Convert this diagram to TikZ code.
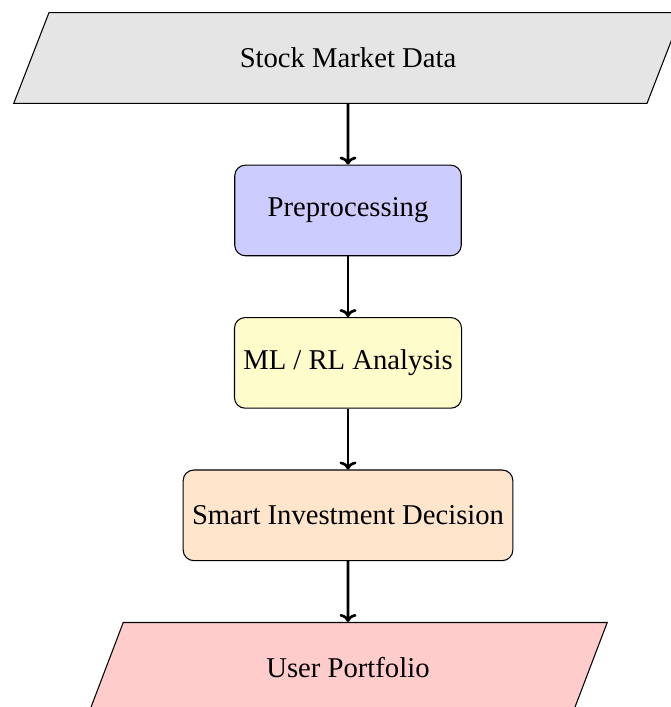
\documentclass[tikz,border=0pt]{standalone}
\usepackage{fontspec}
\setmainfont{Liberation Serif}
\usetikzlibrary{shapes.geometric, positioning, arrows.meta}

\begin{document}
\begin{tikzpicture}[node distance=0.805cm, font=\fontsize{10.8}{13}\selectfont,
    io/.style={trapezium, trapezium left angle=70, trapezium right angle=110,
        trapezium stretches=true, draw, minimum height=1.2cm, text centered},
    process/.style={rectangle, rounded corners, draw, minimum width=3cm,
        minimum height=1.2cm, text centered},
    arrow/.style={line width=1pt, -{To[width=6.4pt, length=3pt]}}]

    \useasboundingbox (0,0) rectangle (8.887,-9.364);

    % Stages of the pipeline
    \node[io, fill=gray!20, minimum width=8.887cm] (data) at (4.609,-0.768) {Stock Market Data};
    \node[process, fill=blue!20, below=of data] (prep) {Preprocessing};
    \node[process, fill=yellow!20, below=of prep] (ml) {ML / RL Analysis};
    \node[process, fill=orange!20, below=of ml] (decision) {Smart Investment Decision};
    \node[io, fill=red!20, minimum width=6.88cm, below=of decision] (portfolio) {User Portfolio};

    % Arrows between stages
    \draw[arrow] (data) -- (prep);
    \draw[arrow] (prep) -- (ml);
    \draw[arrow] (ml) -- (decision);
    \draw[arrow] (decision) -- (portfolio);

\end{tikzpicture}
\end{document}
